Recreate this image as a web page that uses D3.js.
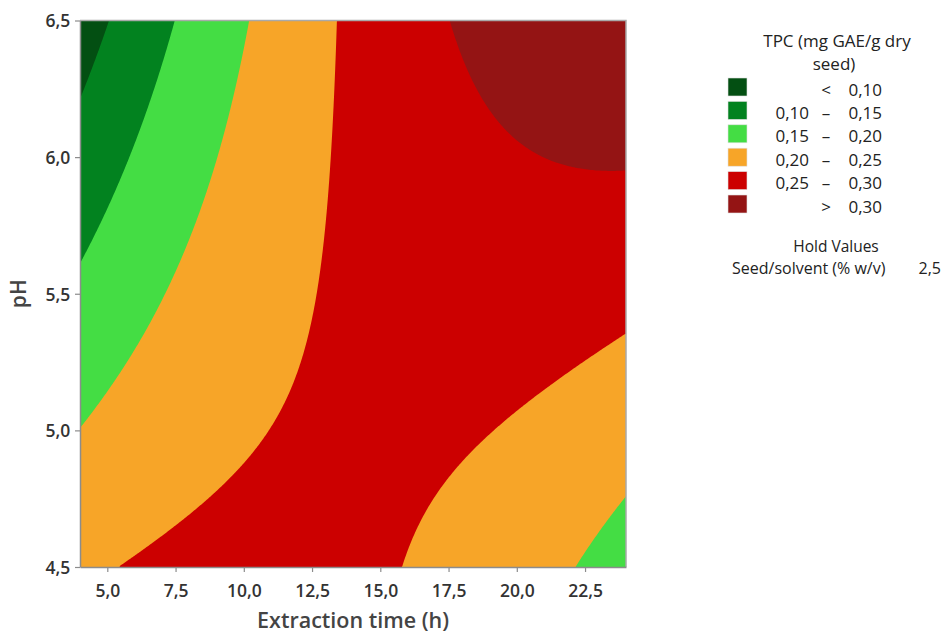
<!DOCTYPE html>
<html><head><meta charset="utf-8">
<script src="https://cdn.jsdelivr.net/npm/d3@7"></script>
<style>
body{margin:0;background:#fff}
svg{display:block}
text{font-family:"Open Sans","Noto Sans",sans-serif}
</style></head>
<body><svg id="c" width="945" height="634"></svg>
<script>
// ---- data ----
const xTicks = [5.0, 7.5, 10.0, 12.5, 15.0, 17.5, 20.0, 22.5];
const yTicks = [4.5, 5.0, 5.5, 6.0, 6.5];
const xDomain = [4, 24];
const yDomain = [4.5, 6.5];
const levels = [0.10, 0.15, 0.20, 0.25, 0.30];
const bandColors = ["#034f12", "#02821f", "#44dd44", "#f7a528", "#cc0000", "#941414"];
const bandLow = ["", "0,10", "0,15", "0,20", "0,25", ""];
const bandSep = ["<", "–", "–", "–", "–", ">"];
const bandHigh = ["0,10", "0,15", "0,20", "0,25", "0,30", "0,30"];
// fitted response surface (seed/solvent held at 2.5): const, t, pH, t², pH², t·pH
const modelTerms = ["const", "time", "pH", "time^2", "pH^2", "time*pH"];
const modelCoefs = [0.7337, -0.02759, -0.1164, -0.00047, 0.0, 0.008345];
const holdName = "Seed/solvent (% w/v)";
const holdValue = "2,5";

// ---- drawing ----
const svg = d3.select("#c");
const x = d3.scaleLinear().domain(xDomain).range([80, 626]);
const y = d3.scaleLinear().domain(yDomain).range([567, 20.5]);
const fmt = v => d3.format(".1f")(v).replace(".", ",");

function model(t, p) {
  const c = modelCoefs;
  return c[0] + c[1]*t + c[2]*p + c[3]*t*t + c[4]*p*p + c[5]*t*p;
}
const nx = 320, ny = 320;
const gx = d3.scaleLinear().domain([0, nx]).range(xDomain);
const gy = d3.scaleLinear().domain([0, ny]).range([yDomain[1], yDomain[0]]);
const grid = new Float64Array(nx * ny);
for (let j = 0; j < ny; j++) for (let i = 0; i < nx; i++)
  grid[j*nx + i] = model(gx(i + 0.5), gy(j + 0.5));
const contours = d3.contours().size([nx, ny]).thresholds(levels)(grid);
const proj = d3.geoTransform({point(px, py) { this.stream.point(x(gx(px)), y(gy(py))); }});
const path = d3.geoPath(proj);

svg.append("clipPath").attr("id", "clip").append("rect")
  .attr("x", x(xDomain[0])).attr("y", y(yDomain[1]))
  .attr("width", x(xDomain[1]) - x(xDomain[0])).attr("height", y(yDomain[0]) - y(yDomain[1]));
const plot = svg.append("g").attr("clip-path", "url(#clip)");
plot.append("rect")
  .attr("x", x(xDomain[0])).attr("y", y(yDomain[1]))
  .attr("width", x(xDomain[1]) - x(xDomain[0])).attr("height", y(yDomain[0]) - y(yDomain[1]))
  .attr("fill", bandColors[0]);
plot.selectAll("path.band").data(contours).join("path")
  .attr("class", "band")
  .attr("d", path)
  .attr("fill", (d, i) => bandColors[i + 1]);

// frame (top & right)
svg.append("path")
  .attr("d", `M${x(xDomain[0])},${y(yDomain[1])}H${x(xDomain[1])}V${y(yDomain[0])}`)
  .attr("fill", "none").attr("stroke", "#a9a9a9").attr("stroke-width", 1.5);

const gxA = svg.append("g").attr("transform", `translate(0,${y(yDomain[0])})`)
  .call(d3.axisBottom(x).tickValues(xTicks).tickFormat(fmt).tickSize(5).tickSizeOuter(0));
const gyA = svg.append("g").attr("transform", `translate(${x(xDomain[0])},0)`)
  .call(d3.axisLeft(y).tickValues(yTicks).tickFormat(fmt).tickSize(5).tickSizeOuter(0));
[gxA, gyA].forEach(g => {
  g.select(".domain").attr("stroke", "#8c8c8c").attr("stroke-width", 1.5);
  g.selectAll(".tick line").attr("stroke", "#8c8c8c").attr("stroke-width", 1.2);
  g.selectAll(".tick text").attr("fill", "#333").attr("font-size", 17.5).attr("font-weight", 600)
    .style("font-family", '"Open Sans","Noto Sans",sans-serif');
});
gxA.selectAll(".tick text").attr("dy", "1.26em");
gyA.selectAll(".tick text").attr("dx", "-0.1em").attr("dy", "0.36em");

svg.append("text").attr("x", 353).attr("y", 628).attr("text-anchor", "middle")
  .attr("font-size", 21.5).attr("font-weight", 600).attr("fill", "#444").text("Extraction time (h)");
svg.append("text").attr("transform", `translate(26,${(y(yDomain[0]) + y(yDomain[1]))/2}) rotate(-90)`)
  .attr("text-anchor", "middle").attr("font-size", 21).attr("font-weight", 600).attr("fill", "#444").text("pH");

// legend
const lg = svg.append("g");
const lfs = 17;
lg.append("text").attr("x", 837).attr("y", 47).attr("text-anchor", "middle")
  .attr("font-size", lfs).attr("fill", "#222").text("TPC (mg GAE/g dry");
lg.append("text").attr("x", 834).attr("y", 70).attr("text-anchor", "middle")
  .attr("font-size", lfs).attr("fill", "#222").text("seed)");
const rows = lg.selectAll("g.row").data(bandColors).join("g").attr("class", "row")
  .attr("transform", (d, i) => `translate(0,${78 + i*23.4})`);
rows.append("rect").attr("x", 728).attr("y", 0).attr("width", 19).attr("height", 18)
  .attr("fill", d => d).attr("stroke", "#e0e0e0").attr("stroke-width", 0.6);
rows.append("text").attr("x", 809).attr("y", 17.5).attr("text-anchor", "end")
  .attr("font-size", lfs).attr("fill", "#222").text((d, i) => bandLow[i]);
rows.append("text").attr("x", 826).attr("y", 17.5).attr("text-anchor", "middle")
  .attr("font-size", lfs).attr("fill", "#222").text((d, i) => bandSep[i]);
rows.append("text").attr("x", 882).attr("y", 17.5).attr("text-anchor", "end")
  .attr("font-size", lfs).attr("fill", "#222").text((d, i) => bandHigh[i]);
lg.append("text").attr("x", 836).attr("y", 252).attr("text-anchor", "middle")
  .attr("font-size", 15.5).attr("fill", "#222").text("Hold Values");
lg.append("text").attr("x", 732).attr("y", 274).attr("font-size", 16).attr("fill", "#222").text(holdName);
lg.append("text").attr("x", 941).attr("y", 274).attr("text-anchor", "end")
  .attr("font-size", 16).attr("fill", "#222").text(holdValue);
</script></body></html>
